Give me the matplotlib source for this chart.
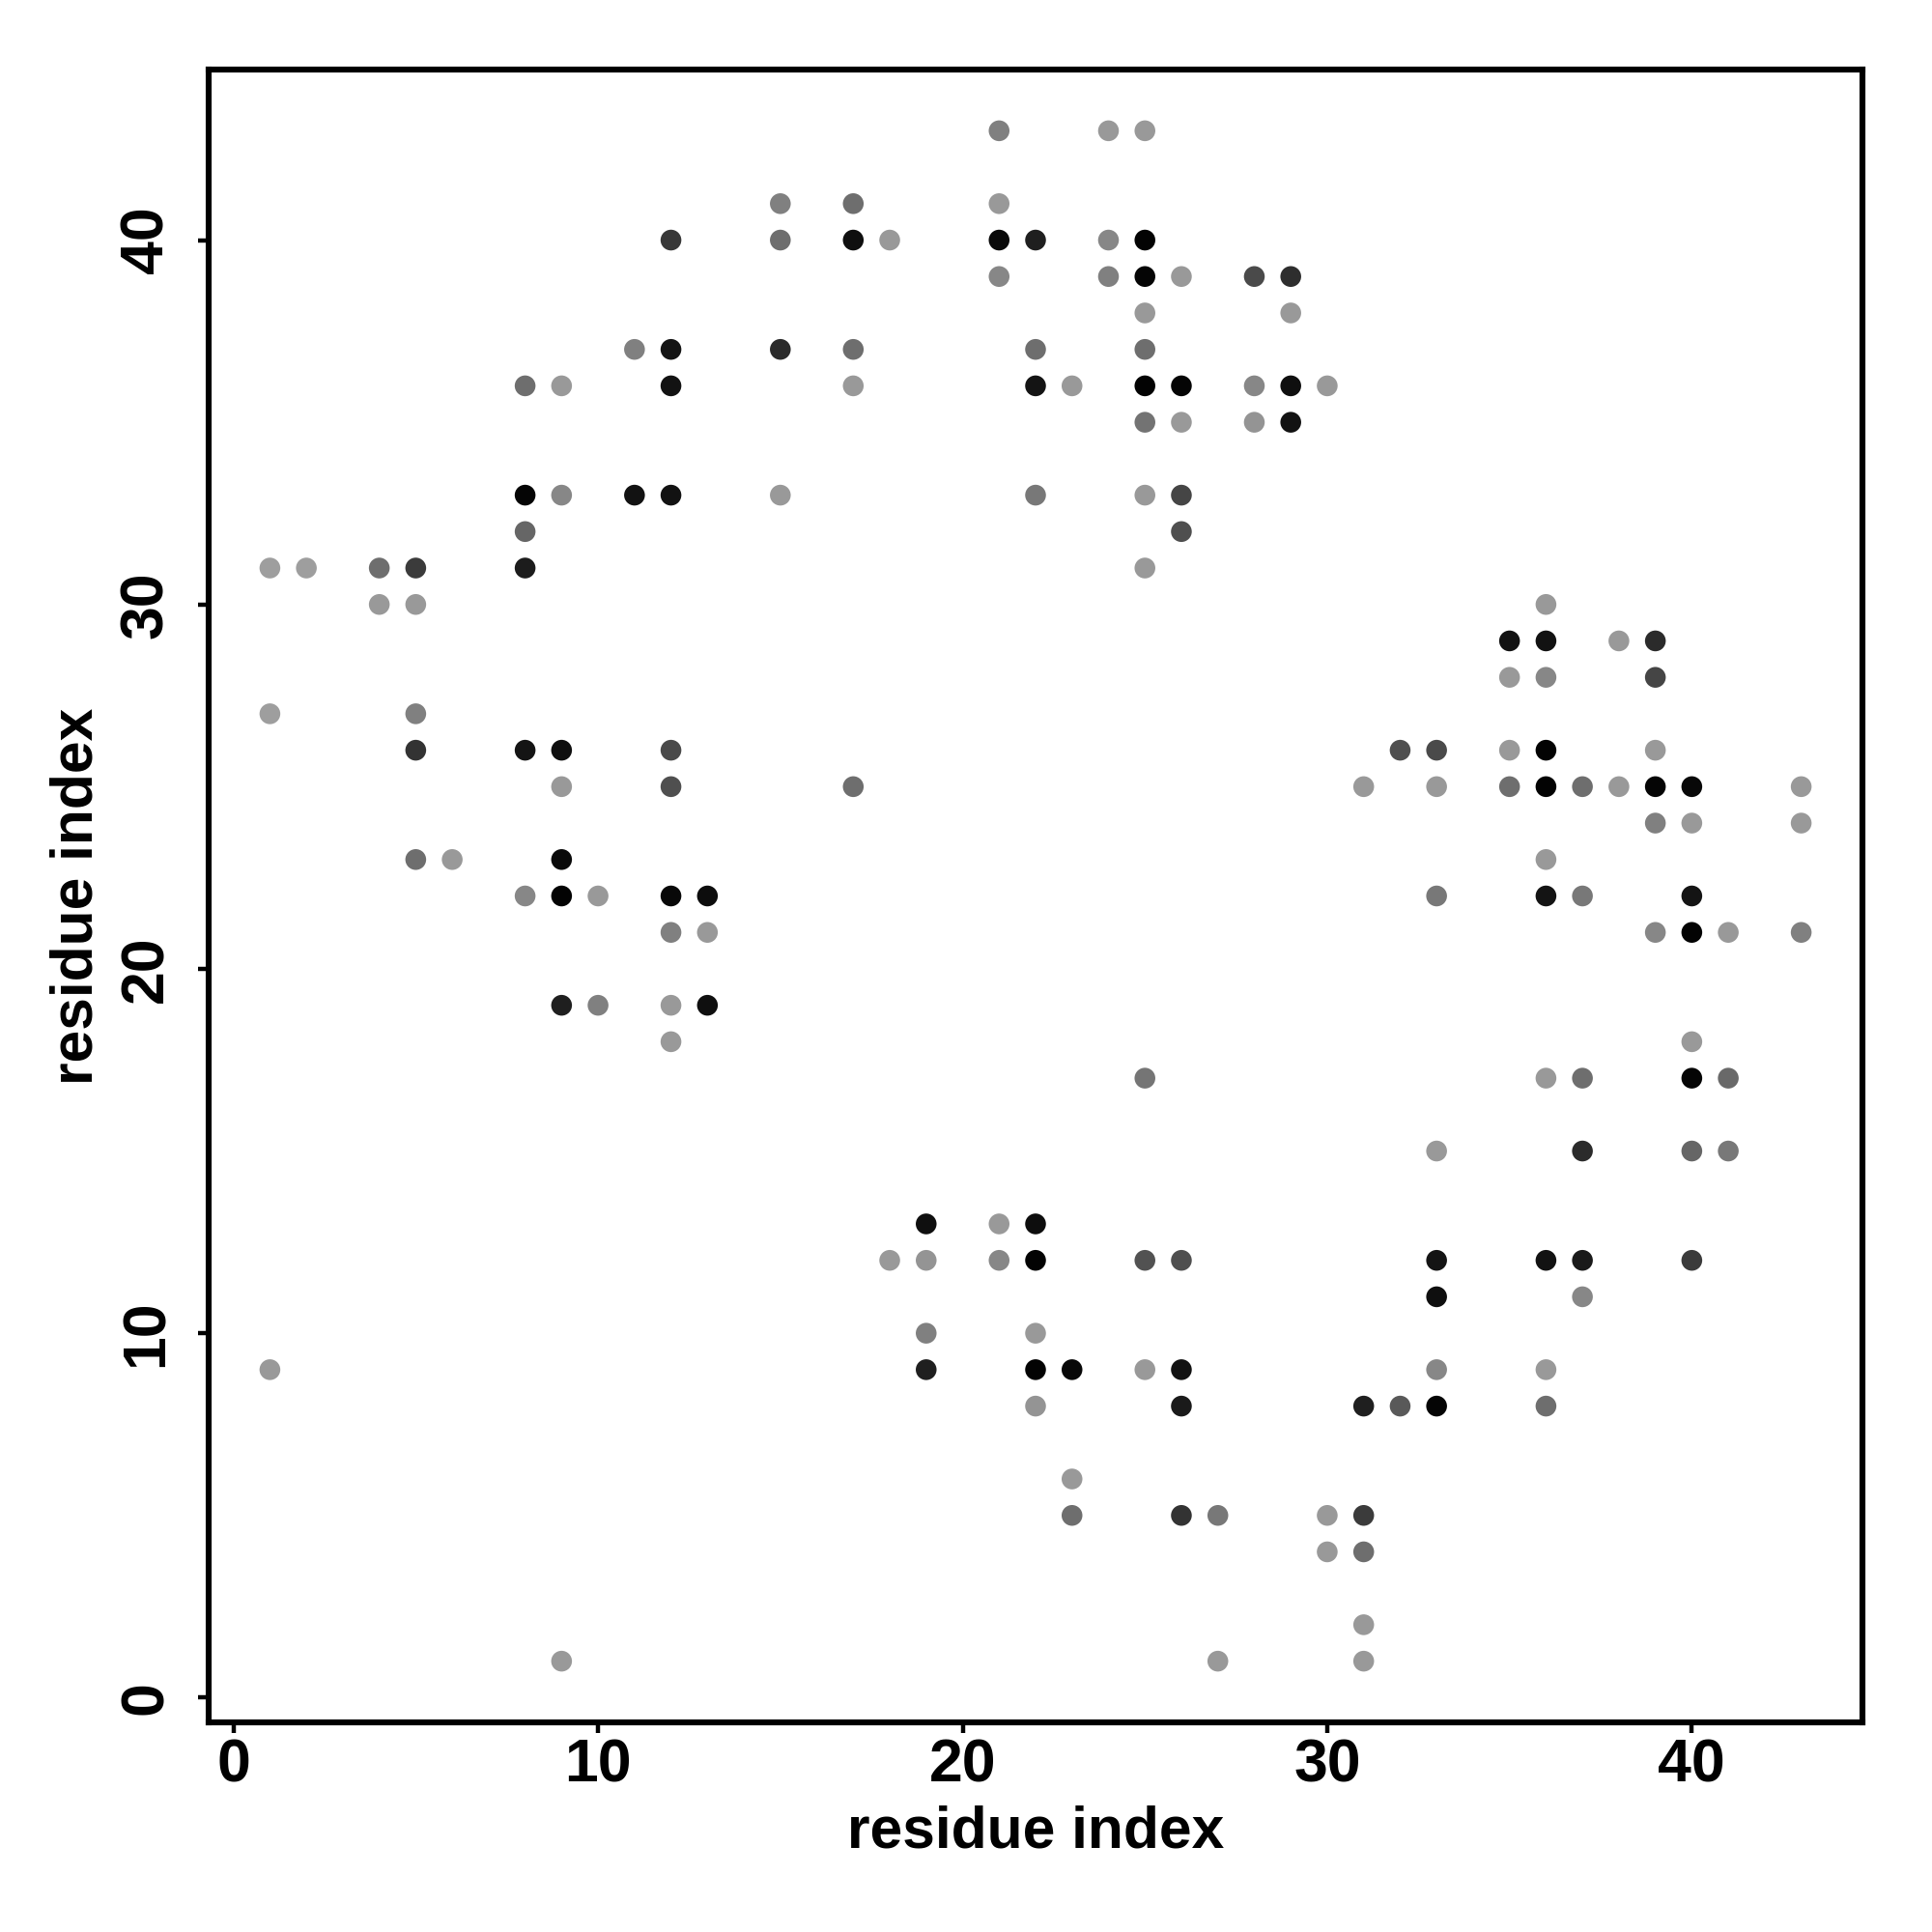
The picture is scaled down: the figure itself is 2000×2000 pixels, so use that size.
import matplotlib
matplotlib.use("Agg")
import matplotlib.pyplot as plt

# contact map: residue i, residue j, grey level of the dot (0 = black, 1 = white)
res_i = [
    21, 24, 25,
    15, 17, 21,
    12, 15, 17, 18, 21, 22, 24, 25,
    21, 24, 25, 26, 28, 29,
    25, 29,
    11, 12, 15, 17, 22, 25,
    8, 9, 12, 17, 22, 23, 25, 26, 28, 29, 30,
    25, 26, 28, 29,
    8, 9, 11, 12, 15, 22, 25, 26,
    8, 26,
    1, 2, 4, 5, 8, 25,
    4, 5, 36,
    35, 36, 38, 39,
    35, 36, 39,
    1, 5,
    5, 8, 9, 12, 32, 33, 35, 36, 39,
    9, 12, 17, 31, 33, 35, 36, 37, 38, 39, 40, 43,
    39, 40, 43,
    5, 6, 9, 36,
    8, 9, 10, 12, 13, 33, 36, 37, 40,
    12, 13, 39, 40, 41, 43,
    9, 10, 12, 13,
    12, 40,
    25, 36, 37, 40, 41,
    33, 37, 40, 41,
    19, 21, 22,
    18, 19, 21, 22, 25, 26, 33, 36, 37, 40,
    33, 37,
    19, 22,
    1, 19, 22, 23, 25, 26, 33, 36,
    22, 26, 31, 32, 33, 36,
    23,
    23, 26, 27, 30, 31,
    30, 31,
    31,
    9, 27, 31,
]
res_j = [
    43, 43, 43,
    41, 41, 41,
    40, 40, 40, 40, 40, 40, 40, 40,
    39, 39, 39, 39, 39, 39,
    38, 38,
    37, 37, 37, 37, 37, 37,
    36, 36, 36, 36, 36, 36, 36, 36, 36, 36, 36,
    35, 35, 35, 35,
    33, 33, 33, 33, 33, 33, 33, 33,
    32, 32,
    31, 31, 31, 31, 31, 31,
    30, 30, 30,
    29, 29, 29, 29,
    28, 28, 28,
    27, 27,
    26, 26, 26, 26, 26, 26, 26, 26, 26,
    25, 25, 25, 25, 25, 25, 25, 25, 25, 25, 25, 25,
    24, 24, 24,
    23, 23, 23, 23,
    22, 22, 22, 22, 22, 22, 22, 22, 22,
    21, 21, 21, 21, 21, 21,
    19, 19, 19, 19,
    18, 18,
    17, 17, 17, 17, 17,
    15, 15, 15, 15,
    13, 13, 13,
    12, 12, 12, 12, 12, 12, 12, 12, 12, 12,
    11, 11,
    10, 10,
    9, 9, 9, 9, 9, 9, 9, 9,
    8, 8, 8, 8, 8, 8,
    6,
    5, 5, 5, 5, 5,
    4, 4,
    2,
    1, 1, 1,
]
grey = [
    .50, .60, .60,
    .50, .43, .60,
    .22, .43, .06, .60, .04, .12, .53, .01,
    .53, .50, .02, .60, .29, .18,
    .60, .60,
    .50, .08, .17, .43, .43, .43,
    .43, .60, .07, .60, .08, .60, .01, .02, .53, .06, .60,
    .45, .60, .58, .07,
    .02, .53, .07, .07, .60, .47, .60, .27,
    .40, .31,
    .62, .62, .43, .23, .11, .60,
    .60, .60, .60,
    .07, .07, .60, .17,
    .60, .53, .27,
    .62, .50,
    .20, .08, .06, .29, .31, .29, .60, .01, .60,
    .60, .31, .43, .60, .60, .43, .01, .43, .60, .02, .03, .60,
    .50, .60, .60,
    .43, .60, .04, .60,
    .53, .01, .60, .03, .05, .47, .08, .47, .08,
    .50, .60, .53, .01, .60, .50,
    .12, .50, .60, .06,
    .60, .60,
    .46, .60, .43, .02, .41,
    .60, .17, .40, .47,
    .06, .60, .05,
    .60, .58, .53, .01, .32, .31, .08, .07, .10, .23,
    .06, .53,
    .50, .60,
    .60, .12, .01, .03, .60, .07, .53, .60,
    .58, .10, .12, .35, .02, .43,
    .60,
    .43, .20, .47, .60, .23,
    .60, .43,
    .60,
    .60, .60, .60,
]
ticks = [0, 10, 20, 30, 40]

plt.rcParams["font.family"] = ["Liberation Sans", "DejaVu Sans"]
plt.rcParams["font.weight"] = "bold"

fig = plt.figure(figsize=(10, 10), dpi=200)
ax = fig.add_axes([0.108, 0.1085, 0.856, 0.8555])

colours = [(g, g, g) for g in grey]
ax.scatter(res_i, res_j, s=60, c=colours, linewidths=0)

ax.set_xlim(-0.68, 44.68)
ax.set_ylim(-0.68, 44.68)
ax.set_xticks(ticks)
ax.set_yticks(ticks)
ax.tick_params(axis="both", direction="out", length=4, width=1.6,
               labelsize=22.5, colors="black")
ax.tick_params(axis="x", pad=1.5)
ax.tick_params(axis="y", pad=8.5)
for label in ax.get_yticklabels():
    label.set_rotation(90)
    label.set_va("center")
for label in ax.get_xticklabels() + ax.get_yticklabels():
    label.set_fontweight("bold")
for spine in ax.spines.values():
    spine.set_linewidth(2.2)

ax.set_xlabel("residue index", fontsize=21.8, fontweight="bold", labelpad=4)
ax.set_ylabel("residue index", fontsize=21.8, fontweight="bold", labelpad=5)

fig.savefig("out.png", dpi=200)
